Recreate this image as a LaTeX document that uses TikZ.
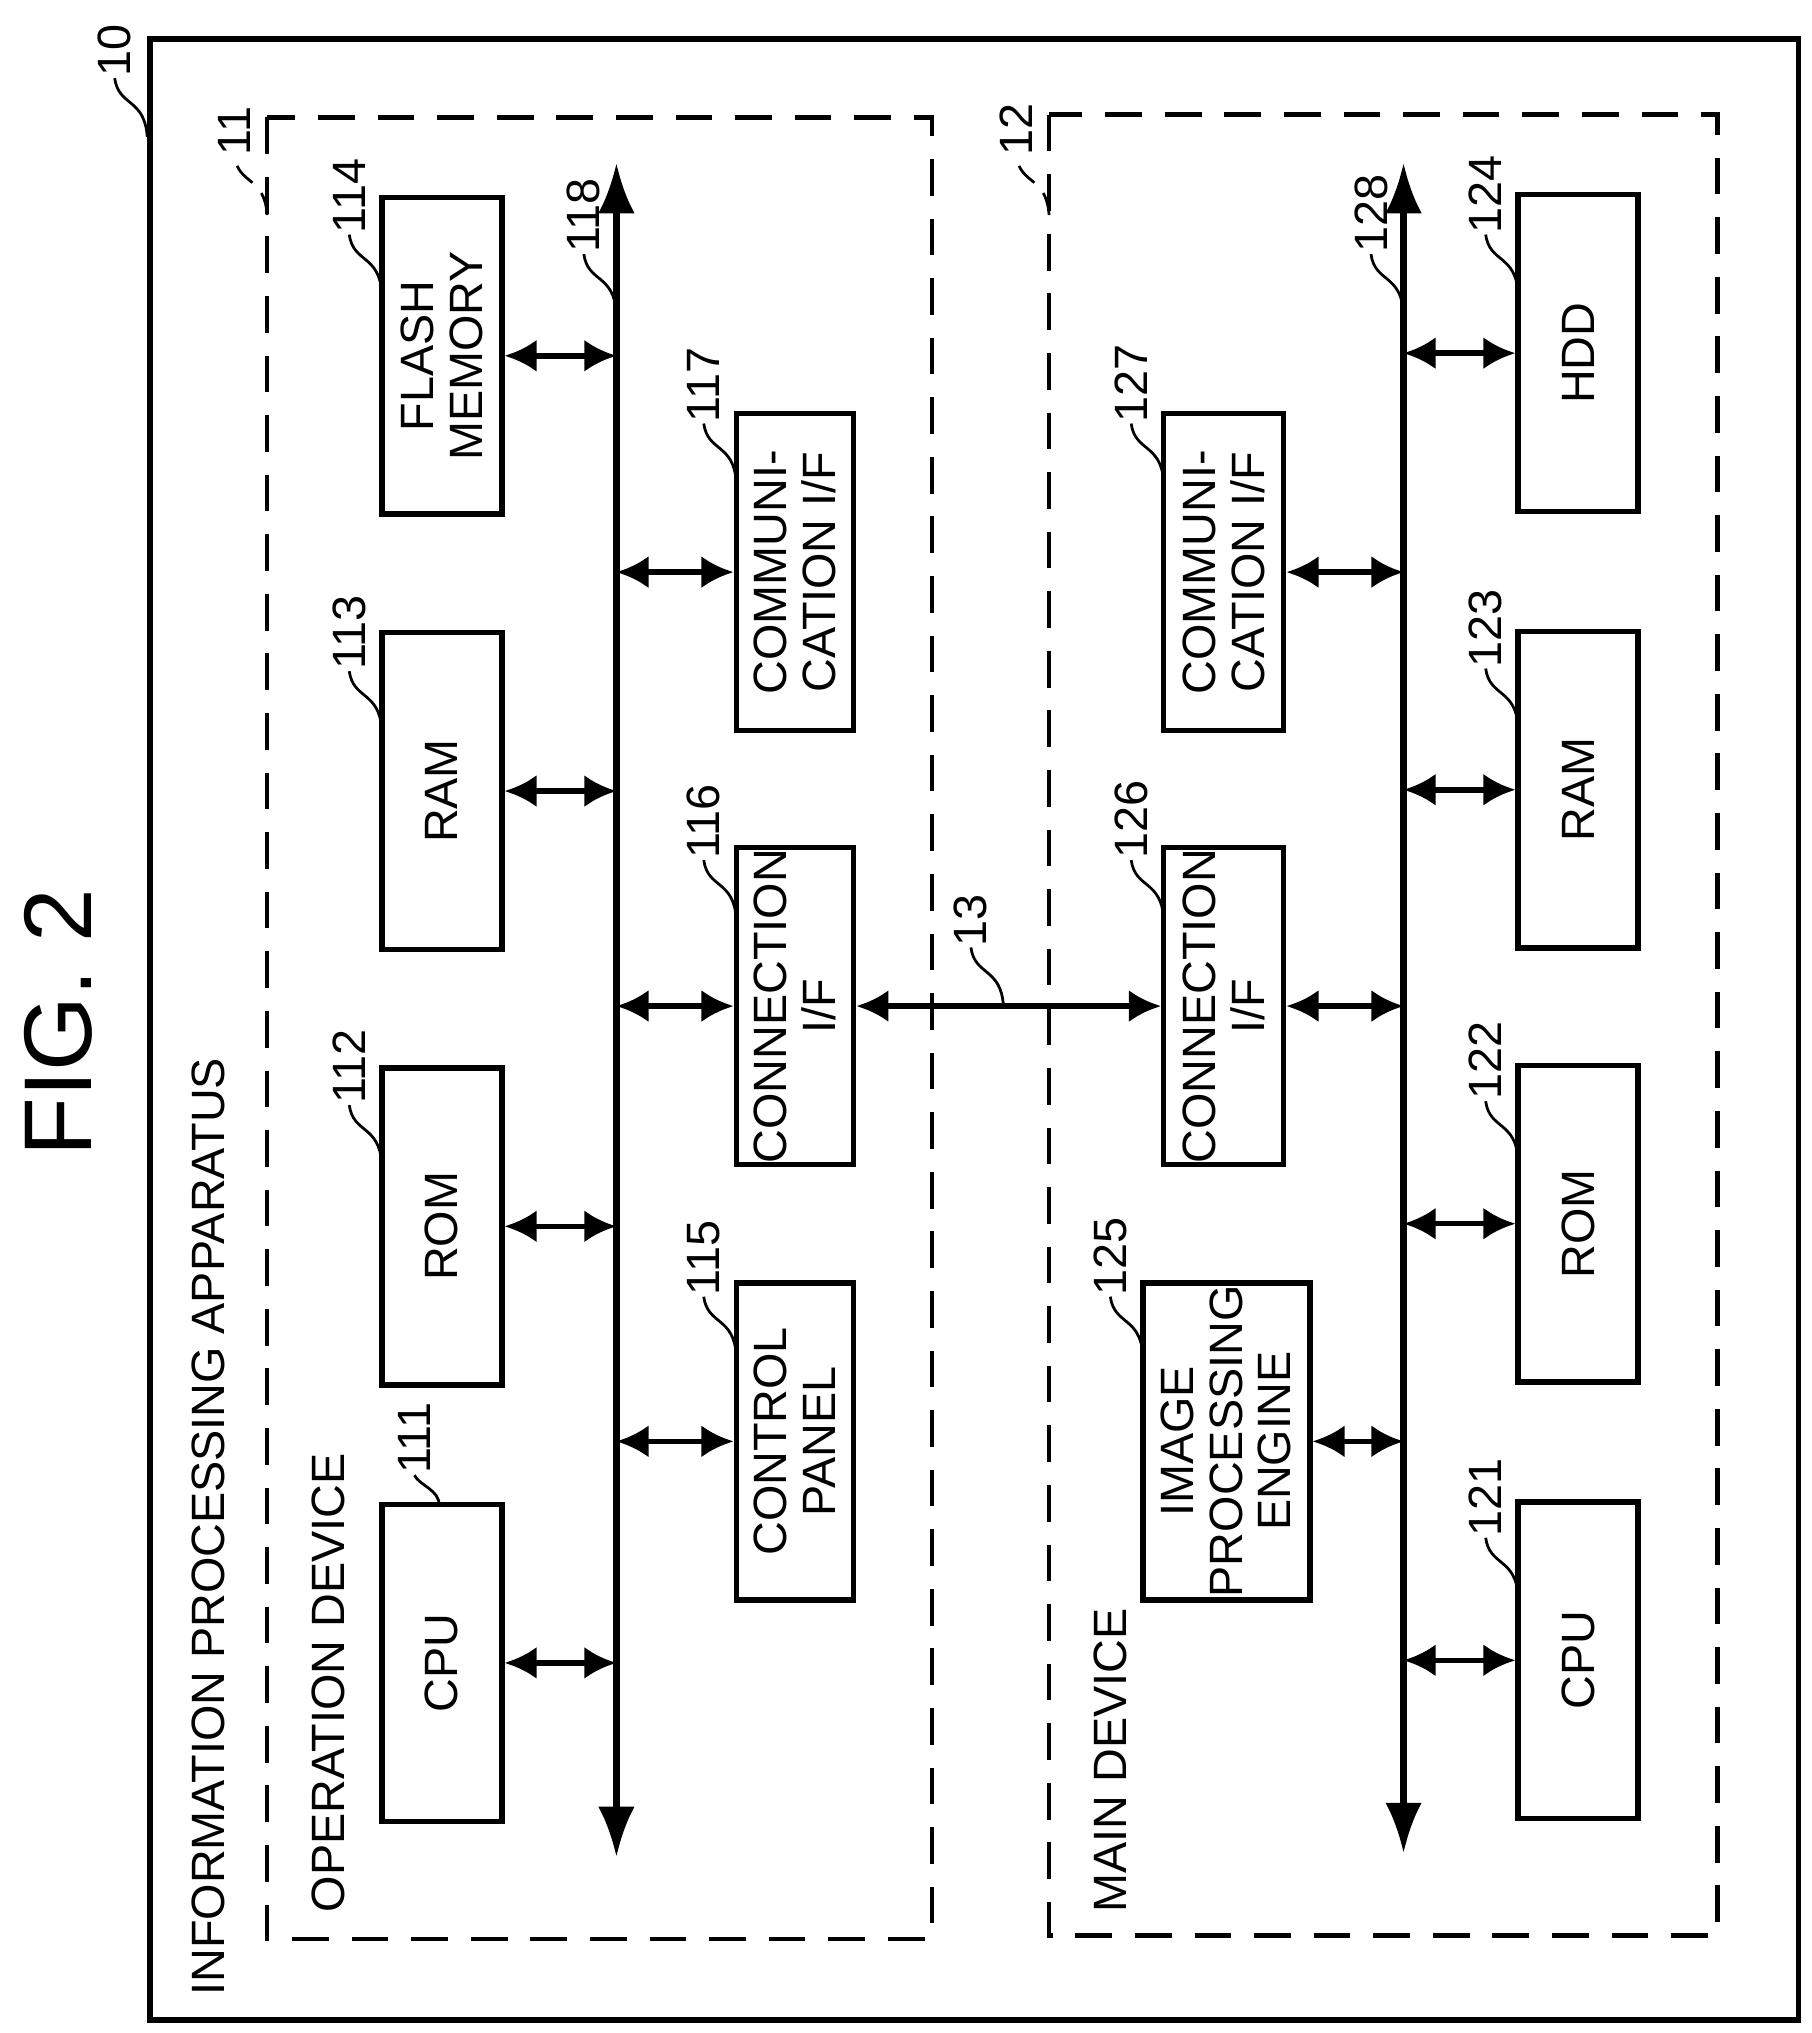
\documentclass[tikz,border=0pt]{standalone}
\usepackage{fontspec}
\setmainfont{Liberation Sans}
\usetikzlibrary{arrows.meta}
\tikzset{
  box/.style={draw,line width=1.2pt,rotate=90,align=center,inner sep=0pt,
    font=\fontsize{10.2}{10.6}\selectfont},
  bus/.style={line width=1.4pt,{Latex[length=11pt,width=8pt]}-{Latex[length=11pt,width=8pt]}},
  link/.style={line width=1.2pt,{Latex[length=7pt,width=7pt]}-{Latex[length=7pt,width=7pt]}},
  txt/.style={rotate=90,anchor=west,inner sep=0pt,font=\fontsize{10.2}{10.6}\selectfont},
  lead/.style={line width=0.6pt}
}
\newcommand{\lead}[3][]{%
  \draw[lead,#1] (#2) .. controls +(-2,-30) and +(3,22) .. ++(-25,-45)
    node[txt] {#3};}
\begin{document}
\begin{tikzpicture}[x=0.01cm,y=-0.01cm]
\useasboundingbox (0,0) rectangle (1390,1560);
% frames
\draw[line width=1.2pt] (115,30) rectangle (1380,1550);
\draw[line width=1pt,dash pattern=on 8pt off 5pt] (205,90) rectangle (715,1488);
\draw[line width=1pt,dash pattern=on 8pt off 5pt] (805,88) rectangle (1318,1485);
\node[rotate=90,font=\fontsize{21}{21}\selectfont] (fig) at (45,785) {FIG. 2};
\node[txt] (ipa) at (160,1532) {INFORMATION PROCESSING APPARATUS};
\node[txt] (opd) at (252,1468) {OPERATION DEVICE};
\node[txt] (mnd) at (852,1468) {MAIN DEVICE};
% operation device
\coordinate (busAt) at (473,125);
\coordinate (busAb) at (473,1425);
\draw[bus] (busAt) -- (busAb);
\node[box,minimum width=2.43cm,minimum height=0.92cm] (fmA) at (339,273) {FLASH\\MEMORY};
\node[box,minimum width=2.43cm,minimum height=0.92cm] (ramA) at (339,607) {RAM};
\node[box,minimum width=2.43cm,minimum height=0.92cm] (romA) at (339,941) {ROM};
\node[box,minimum width=2.43cm,minimum height=0.92cm] (cpuA) at (339,1276) {CPU};
\node[box,minimum width=2.43cm,minimum height=0.90cm] (comA) at (610,439) {COMMUNI-\\CATION I/F};
\node[box,minimum width=2.43cm,minimum height=0.90cm] (conA) at (610,772) {CONNECTION\\I/F};
\node[box,minimum width=2.43cm,minimum height=0.90cm] (cpA) at (610,1106) {CONTROL\\PANEL};
\foreach \n in {fmA,ramA,romA,cpuA}
  \draw[link] (\n.south) -- (\n.south -| busAt);
\foreach \n in {comA,conA,cpA}
  \draw[link] (\n.north) -- (\n.north -| busAt);
% main device
\coordinate (busBt) at (1077,125);
\coordinate (busBb) at (1077,1422);
\draw[bus] (busBt) -- (busBb);
\node[box,minimum width=2.43cm,minimum height=0.92cm] (hddB) at (1211,271) {HDD};
\node[box,minimum width=2.43cm,minimum height=0.92cm] (ramB) at (1211,606) {RAM};
\node[box,minimum width=2.43cm,minimum height=0.92cm] (romB) at (1211,939) {ROM};
\node[box,minimum width=2.43cm,minimum height=0.92cm] (cpuB) at (1211,1274) {CPU};
\node[box,minimum width=2.43cm,minimum height=0.92cm] (comB) at (939,439) {COMMUNI-\\CATION I/F};
\node[box,minimum width=2.43cm,minimum height=0.92cm] (conB) at (939,772) {CONNECTION\\I/F};
\node[box,minimum width=2.43cm,minimum height=1.28cm] (ipeB) at (941,1106) {IMAGE\\PROCESSING\\ENGINE};
\foreach \n in {hddB,ramB,romB,cpuB}
  \draw[link] (\n.north) -- (\n.north -| busBt);
\foreach \n in {comB,conB,ipeB}
  \draw[link] (\n.south) -- (\n.south -| busBt);
\draw[link] (conA.south) -- (conB.north);
% reference numerals
\lead{113,105}{10}
\lead[dash pattern=on 5pt off 3pt]{205,165}{11}
\lead[dash pattern=on 5pt off 3pt]{805,165}{12}
\lead{770,772}{13}
\lead{293,225}{114}
\lead{293,560}{113}
\lead{293,893}{112}
\draw[lead] (337,1155) .. controls +(0,-12) and +(4,8) .. (318,1132) node[txt] {111};
\lead{473,240}{118}
\lead{565,370}{117}
\lead{565,705}{116}
\lead{565,1040}{115}
\lead{893,370}{127}
\lead{893,705}{126}
\lead{877,1040}{125}
\lead{1077,240}{128}
\lead{1165,225}{124}
\lead{1165,558}{123}
\lead{1165,890}{122}
\lead{1165,1225}{121}
\end{tikzpicture}
\end{document}
